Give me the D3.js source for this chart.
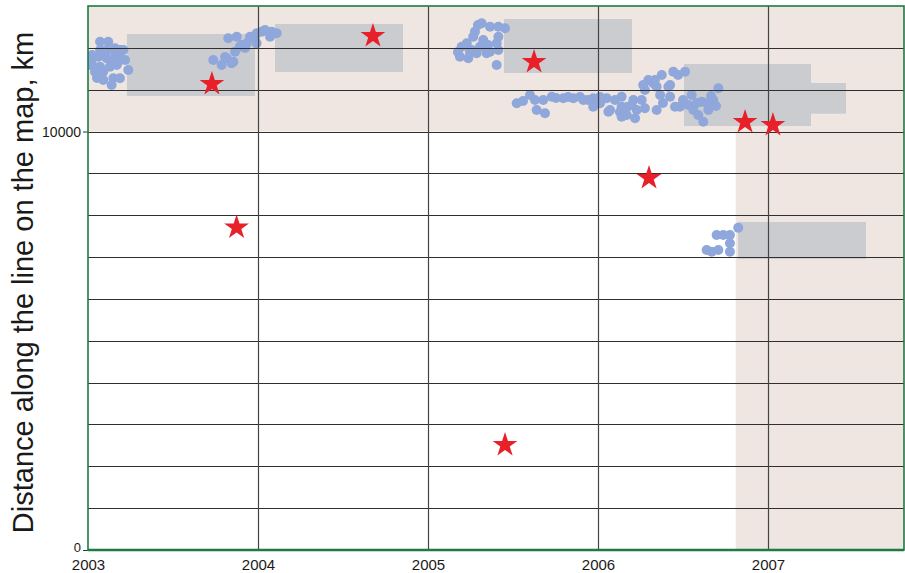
<!DOCTYPE html>
<html>
<head>
<meta charset="utf-8">
<script src="https://cdn.jsdelivr.net/npm/d3@7"></script>
<style>
  html, body { margin: 0; padding: 0; background: #ffffff; }
  svg { display: block; }
  text { font-family: "Liberation Sans", Arial, sans-serif; fill: #1a1a1a; }
</style>
</head>
<body>
<svg id="chart" width="905" height="573"></svg>
<script>
// Time in decimal years, distance along the line in km
const yearTicks = [2003, 2004, 2005, 2006, 2007];
const kmTickLabels = [0, 10000];
const kmGrid = d3.range(0, 13001, 1000);

// Shaded zones: upper band above 10000 km, and the late-2006 onward period
const upperBandKm = [10000, 13000];
const lateStartYear = 2006.81;

// Grey boxes: [startYear, endYear, lowKm, highKm]
const boxes = [
  [2003.229, 2003.982, 10849, 12331],
  [2004.100, 2004.853, 11423, 12570],
  [2005.447, 2006.200, 11399, 12689],
  [2006.506, 2007.253, 10132, 11614],
  [2006.706, 2007.459, 10426, 11160],
  [2006.824, 2007.576, 6954, 7838]
];

// Observed points: [year, km]
const pointsA = [
  [2003.071,12147],[2003.119,12147],[2003.071,11949],[2003.110,11949],[2003.159,11989],
  [2003.208,11949],[2003.188,11829],[2003.061,11788],[2003.110,11750],[2003.149,11710],
  [2003.178,11669],[2003.022,11631],[2003.041,11430],[2003.071,11550],[2003.090,11430],
  [2003.129,11550],[2003.169,11590],[2003.237,11470],[2003.090,11231],[2003.139,11112],
  [2003.149,11272],[2003.188,11272],[2003.012,11590],[2003.100,11870],[2003.160,11870],
  [2003.024,11829],[2003.006,11710],[2003.218,11710],[2003.053,11280],[2003.188,11949]
];
const pointsB = [
  [2003.737,11710],[2003.786,11590],[2003.816,11750],[2003.855,11669],[2003.825,12228],
  [2003.875,12266],[2003.865,11908],[2003.894,12027],[2003.934,12109],[2003.953,12266],
  [2003.992,12348],[2004.022,12386],[2004.041,12426],[2004.081,12386],[2004.110,12348],
  [2004.071,12266],[2003.992,12109],[2003.845,11631],[2003.904,12068],[2003.806,11781],
  [2003.924,11996],[2003.982,12259]
];
const pointsC = [
  [2005.316,12586],[2005.365,12505],[2005.414,12505],[2005.453,12467],[2005.276,12386],
  [2005.266,12266],[2005.228,12109],[2005.198,12027],[2005.188,11788],[2005.237,11750],
  [2005.286,11870],[2005.345,11870],[2005.365,11908],[2005.414,11949],[2005.404,12109],
  [2005.414,12266],[2005.325,12187],[2005.404,11590],[2005.306,12027],[2005.257,11949],
  [2005.247,11900],[2005.176,11900],[2005.353,12068],[2005.294,12546]
];
const pointsD = [
  [2005.522,10675],[2005.600,10873],[2005.629,10754],[2005.639,10515],[2005.688,10436],
  [2005.678,10754],[2005.728,10833],[2005.796,10794],[2005.855,10794],[2005.914,10754],
  [2005.972,10794],[2005.972,10594],[2006.051,10794],[2006.071,10515],[2006.139,10833],
  [2006.139,10594],[2006.169,10395],[2006.228,10515],[2006.208,10754],[2006.257,10754],
  [2006.276,10993],[2006.325,11153],[2006.296,11232],[2006.375,11351],[2006.443,11430],
  [2006.512,11430],[2006.424,11112],[2006.424,10833],[2006.482,10594],[2006.531,10634],
  [2006.345,10515],[2006.218,10316],[2006.266,11112],[2006.345,11072],[2006.414,11072],
  [2006.276,10555],[2006.453,10594],[2006.551,10873],[2006.561,10515],[2006.610,10713],
  [2006.649,10515],[2006.678,10754],[2006.708,11033],[2006.619,10235],[2006.590,10395],
  [2006.639,10675],[2006.061,10474],[2006.139,10355],[2006.198,10634],[2005.559,10730],
  [2005.894,10825],[2006.012,10675],[2005.753,10801],[2005.824,10825],[2005.941,10754],
  [2006.012,10825],[2006.100,10754],[2006.171,10586],[2006.129,10467],[2006.365,10873],
  [2006.382,10682],[2006.500,10754],[2006.582,10682],[2006.665,10849],[2006.694,10610],
  [2006.335,11232],[2006.471,11351]
];
const pointsE = [
  [2006.825,7702],[2006.698,7528],[2006.737,7528],[2006.776,7528],[2006.776,7329],
  [2006.776,7129],[2006.639,7169],[2006.669,7129],[2006.708,7169]
];

// Events marked with stars: [year, km]
const events = [
  [2003.729, 11136], [2003.874, 7707], [2004.676, 12283], [2005.453, 2509],
  [2005.624, 11662], [2006.300, 8890], [2006.865, 10228], [2007.029, 10156]
];

const svg = d3.select("#chart");
const plot = { left: 88, right: 904, top: 6, bottom: 550 };

const x = d3.scaleLinear().domain([2003, 2007.8]).range([plot.left, plot.right]);
const y = d3.scaleLinear().domain([0, 13000]).range([plot.bottom, plot.top]);

// Background shading
svg.append("rect")
  .attr("x", x(2003)).attr("y", y(upperBandKm[1]))
  .attr("width", x(2007.8) - x(2003)).attr("height", y(upperBandKm[0]) - y(upperBandKm[1]))
  .attr("fill", "#efe6e1");
svg.append("rect")
  .attr("x", x(lateStartYear)).attr("y", y(13000))
  .attr("width", x(2007.8) - x(lateStartYear)).attr("height", y(0) - y(13000))
  .attr("fill", "#efe6e1");

// Grey boxes
svg.append("g").selectAll("rect").data(boxes).join("rect")
  .attr("x", d => x(d[0])).attr("y", d => y(d[3]))
  .attr("width", d => x(d[1]) - x(d[0])).attr("height", d => y(d[2]) - y(d[3]))
  .attr("fill", "#cbcccf");

// Points, clipped to the plot area
svg.append("clipPath").attr("id", "plot-clip").append("rect")
  .attr("x", plot.left).attr("y", plot.top)
  .attr("width", plot.right - plot.left).attr("height", plot.bottom - plot.top);
const allPoints = [].concat(pointsA, pointsB, pointsC, pointsD, pointsE);
svg.append("g").attr("clip-path", "url(#plot-clip)")
  .selectAll("circle").data(allPoints).join("circle")
  .attr("cx", d => x(d[0])).attr("cy", d => y(d[1]))
  .attr("r", 5).attr("fill", "#8fa7db");

// Grid
const grid = svg.append("g");
grid.selectAll("line.h").data(kmGrid.filter(v => v > 0 && v < 13000)).join("line")
  .attr("class", "h")
  .attr("x1", plot.left).attr("x2", plot.right)
  .attr("y1", d => Math.round(y(d)) + 0.5).attr("y2", d => Math.round(y(d)) + 0.5)
  .attr("stroke", "#2f2f2f").attr("stroke-width", 1);
grid.selectAll("line.v").data(yearTicks.filter(v => v > 2003)).join("line")
  .attr("class", "v")
  .attr("x1", d => Math.round(x(d)) + 0.5).attr("x2", d => Math.round(x(d)) + 0.5)
  .attr("y1", plot.top).attr("y2", plot.bottom)
  .attr("stroke", "#444").attr("stroke-width", 1.2);

// Stars
const star = d3.symbol().type(d3.symbolStar).size(190);
svg.append("g").selectAll("path").data(events).join("path")
  .attr("d", star)
  .attr("transform", d => `translate(${x(d[0])},${y(d[1])})`)
  .attr("fill", "#e8202a");

// Axes
const xAxis = d3.axisBottom(x).tickValues(yearTicks).tickFormat(d3.format("d")).tickSize(0);
const gx = svg.append("g").attr("transform", `translate(0,${plot.bottom})`).call(xAxis);
gx.select(".domain").remove();
gx.selectAll("text").style("font-size", "15px").attr("y", 19.5).attr("dy", null);

const yAxis = d3.axisLeft(y).tickValues(kmTickLabels).tickFormat(d3.format("d")).tickSize(5).tickPadding(2);
const gy = svg.append("g").attr("transform", `translate(${plot.left},0)`).call(yAxis);
gy.select(".domain").remove();
gy.selectAll("line").attr("stroke", "#333");
gy.selectAll("text")
  .style("font-size", d => d === 0 ? "13px" : "14px")
  .attr("dy", d => d === 0 ? "0.15em" : "0.35em");

// Frame
svg.append("rect")
  .attr("x", plot.left).attr("y", plot.top)
  .attr("width", plot.right - plot.left).attr("height", plot.bottom - plot.top)
  .attr("fill", "none").attr("stroke", "#1d7a44").attr("stroke-width", 1.6);
svg.append("line")
  .attr("x1", plot.left).attr("x2", plot.right).attr("y1", plot.bottom).attr("y2", plot.bottom)
  .attr("stroke", "#1d7a44").attr("stroke-width", 2.4);

// Axis title
svg.append("text")
  .attr("transform", `translate(33,${(30 + 535) / 2}) rotate(-90)`)
  .attr("text-anchor", "middle")
  .style("font-size", "29px")
  .text("Distance along the line on the map, km");
</script>
</body>
</html>
